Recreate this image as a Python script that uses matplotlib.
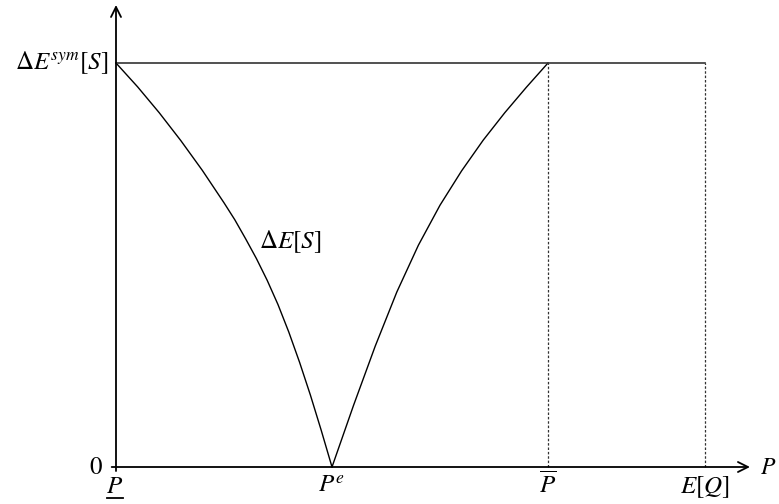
import matplotlib
matplotlib.use("Agg")
import matplotlib.pyplot as plt

plt.rcParams['mathtext.fontset'] = 'stix'

# Values (P scaled so that P_low=0, P^e=1; ΔE^sym = 1)
left_x = [0.0, 0.1, 0.2, 0.3, 0.4, 0.5, 0.55, 0.6, 0.65, 0.7, 0.75, 0.8, 0.85, 0.9, 0.95, 1.0]
left_y = [1.0, 0.941, 0.877, 0.808, 0.734, 0.654, 0.612, 0.565, 0.516, 0.462, 0.402, 0.334, 0.259, 0.178, 0.091, 0.0]
right_x = [1.0, 1.1, 1.2, 1.3, 1.4, 1.5, 1.6, 1.7, 1.8, 1.9, 2.0]
right_y = [0.0, 0.153, 0.299, 0.433, 0.549, 0.648, 0.733, 0.809, 0.877, 0.940, 1.0]
p_low, p_e, p_bar, e_q = 0.0, 1.0, 2.0, 2.727
e_sym = 1.0

fig = plt.figure(figsize=(7.79, 5.04), dpi=100)
ax = fig.add_axes([0, 0, 1, 1])
ax.set_xlim(-116/216, (779-116)/216)
ax.set_ylim(-(504-467)/404, 467/404)
ax.axis('off')

# axes with arrows
ax.annotate('', xy=(p_low, 1.1436), xytext=(p_low, -0.01), xycoords='data',
            arrowprops=dict(arrowstyle='->', lw=1.3, color='black', mutation_scale=18,
                            shrinkA=0, shrinkB=0))
ax.annotate('', xy=(2.935, 0), xytext=(p_low - 0.02, 0), xycoords='data',
            arrowprops=dict(arrowstyle='->', lw=1.3, color='black', mutation_scale=18,
                            shrinkA=0, shrinkB=0))

# curves
ax.plot(left_x, left_y, color='black', lw=1.0)
ax.plot(right_x, right_y, color='black', lw=1.0)
# symmetric level
ax.plot([p_low, e_q], [e_sym, e_sym], color='#333333', lw=1.2)
# dotted verticals
ax.plot([p_bar, p_bar], [0, e_sym], color='#333333', lw=0.9, ls=(0, (2, 1.5)))
ax.plot([e_q, e_q], [0, e_sym], color='#333333', lw=0.9, ls=(0, (2, 1.5)))

fs = 18
base = -0.064
ax.text(-0.037, e_sym, r'$\Delta E^{sym}[S]$', ha='right', va='center', fontsize=fs)
ax.text(-0.06, 0, r'$0$', ha='right', va='center', fontsize=fs)
ax.text(0.662, 0.557, r'$\Delta E[S]$', ha='left', va='center', fontsize=fs)
ax.text(p_low - 0.006, base, r'$P$', ha='center', va='baseline', fontsize=fs)
ax.plot([p_low - 0.043, p_low + 0.031], [-0.076, -0.076], color='black', lw=1.3)
ax.text(p_e, base, r'$P^e$', ha='center', va='baseline', fontsize=fs)
ax.text(p_bar, base, r'$\overline{P}$', ha='center', va='baseline', fontsize=fs)
ax.text(e_q, base, r'$E[Q]$', ha='center', va='baseline', fontsize=fs)
ax.text(2.98, 0, r'$P$', ha='left', va='center', fontsize=17)

fig.savefig('out.png', dpi=100)
